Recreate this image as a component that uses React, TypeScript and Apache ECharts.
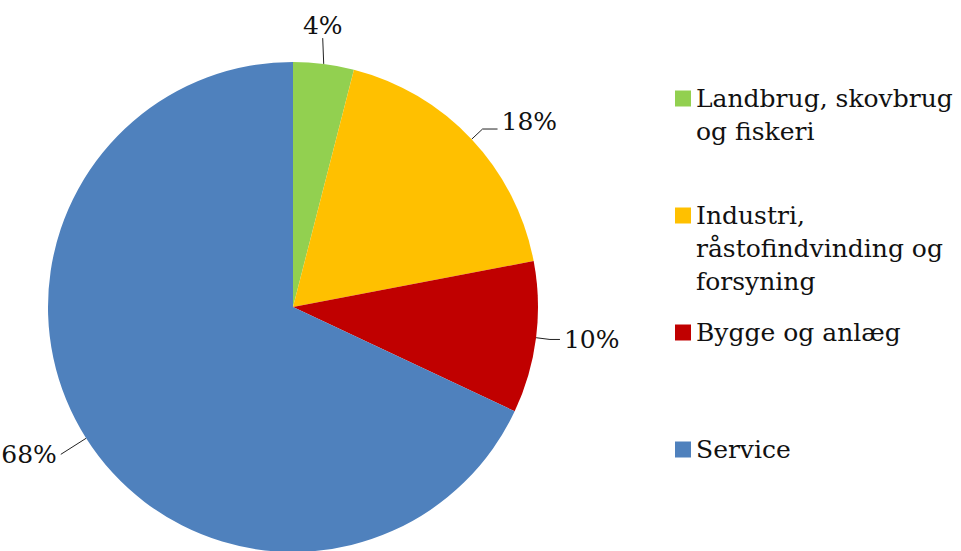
import React, { useEffect, useRef } from "react";
import * as echarts from "echarts";

const categories = [
  "Landbrug, skovbrug",
  "Industri,",
  "Bygge og anlæg",
  "Service",
];
const continuation = ["og fiskeri", "råstofindvinding og\nforsyning", "", ""];
const values = [4, 18, 10, 68];
const colors = ["#92D050", "#FFC000", "#C00000", "#4F81BD"];

const FONT = "DejaVu Serif";

export default function App() {
  const ref = useRef<HTMLDivElement>(null);
  useEffect(() => {
    document.body.style.margin = "0";
    const chart = echarts.init(ref.current!, null, { renderer: "svg" });
    const lineCfg = [
      { length: 24, length2: 0 },
      { length: 15, length2: 15 },
      { length: 14, length2: 10 },
      { length: 30, length2: 0 },
    ];
    chart.setOption({
      animation: false,
      backgroundColor: "#ffffff",
      legend: {
        orient: "vertical",
        left: 675,
        top: 82,
        padding: 0,
        itemWidth: 16,
        itemHeight: 16,
        itemGap: 84,
        icon: "rect",
        data: categories,
        selectedMode: false,
        textStyle: {
          fontFamily: FONT,
          fontSize: 25,
          color: "#111",
          lineHeight: 33,
        },
      },
      graphic: continuation
        .map((t, i) =>
          t
            ? {
                type: "text",
                left: 696,
                top: 82 + i * 117 + 33,
                style: {
                  text: t,
                  font: `25px "${FONT}"`,
                  lineHeight: 33,
                  fill: "#111",
                },
              }
            : null
        )
        .filter(Boolean),
      series: [
        {
          type: "pie",
          center: [293, 307],
          radius: 245,
          startAngle: 90,
          clockwise: true,
          color: colors,
          data: categories.map((c, i) => ({
            name: c,
            value: values[i],
            labelLine: lineCfg[i],
          })),
          label: {
            show: true,
            position: "outside",
            formatter: "{c}%",
            fontFamily: FONT,
            fontSize: 25,
            color: "#111",
            distanceToLabelLine: 4,
            overflow: "none",
          },
          labelLine: {
            show: true,
            lineStyle: { color: "#222", width: 1 },
          },
          labelLayout: (p: any) => {
            if (p.dataIndex === 0 && p.labelLinePoints) {
              const end = p.labelLinePoints[p.labelLinePoints.length - 1];
              return {
                x: end[0] - 4,
                y: end[1] - 2,
                align: "center",
                verticalAlign: "bottom",
              };
            }
            if (p.dataIndex === 1) return { dy: -8 };
            return {};
          },
          emphasis: { disabled: true },
          itemStyle: { borderWidth: 0 },
        },
      ],
    });
    return () => chart.dispose();
  }, []);
  return <div ref={ref} style={{ width: 961, height: 551 }} />;
}
